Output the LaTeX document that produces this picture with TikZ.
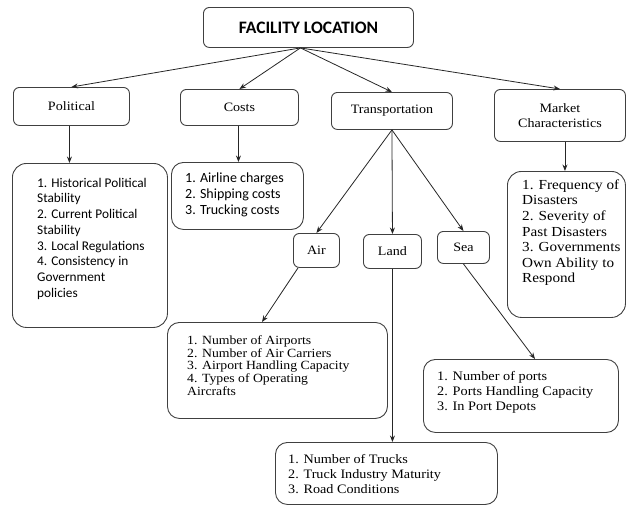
\documentclass[tikz,border=0pt]{standalone}
\usepackage{fontspec}
\setmainfont{Liberation Serif}
\newfontfamily\srfont[FakeStretch=1.1]{Liberation Serif}
\newfontfamily\calfont{Carlito}
\usetikzlibrary{arrows.meta}
\begin{document}
\begin{tikzpicture}[x=1pt,y=-1pt,
  box/.style={draw=black!75, line width=0.9pt, rounded corners=6pt, inner sep=0pt, anchor=north west},
  bigbox/.style={box, rounded corners=14pt},
  lbl/.style={font=\srfont\fontsize{12.8}{14.5}\selectfont, align=center},
  arr/.style={-{Stealth[length=6.5pt,width=5pt]}, line width=0.8pt, black!85},
  txt/.style={anchor=north west, inner sep=0pt, align=left}]
\useasboundingbox (0,0) rectangle (626,507);
% title
\node[box, minimum width=210pt, minimum height=40pt, font=\calfont\bfseries\fontsize{17.5}{20}\selectfont] (title) at (203,7) {FACILITY LOCATION};
% level 1
\node[box, lbl, minimum width=116pt, minimum height=38pt] (pol) at (13,87) {Political};
\node[box, lbl, minimum width=118pt, minimum height=36pt] (cost) at (180,89) {Costs};
\node[box, lbl, minimum width=121pt, minimum height=37pt] (trans) at (331,92) {Transportation};
\node[box, lbl, minimum width=131pt, minimum height=52pt] (mkt) at (494,89) {Market\\Characteristics};
% transport modes
\node[box, lbl, minimum width=46pt, minimum height=34pt] (air) at (293,233) {Air};
\node[box, lbl, minimum width=58pt, minimum height=34pt] (land) at (363,234) {Land};
\node[box, lbl, minimum width=52pt, minimum height=32pt] (sea) at (437,231) {Sea};
% detail boxes
\node[bigbox, minimum width=155pt, minimum height=164pt] (polbox) at (12,163) {};
\node[bigbox, rounded corners=12pt, minimum width=132pt, minimum height=67pt] (costbox) at (171,162) {};
\node[bigbox, minimum width=118pt, minimum height=146pt] (mktbox) at (507,171) {};
\node[bigbox, rounded corners=12pt, minimum width=220pt, minimum height=96pt] (airbox) at (167,322) {};
\node[bigbox, rounded corners=12pt, minimum width=222pt, minimum height=62pt] (landbox) at (275,442) {};
\node[bigbox, rounded corners=12pt, minimum width=195pt, minimum height=73pt] (seabox) at (423,359) {};
% detail texts
\node[txt, font=\calfont\fontsize{13.3}{15.7}\selectfont] (poltxt) at (37,176) {\rule{0pt}{11pt}1. Historical Political\\Stability\\2. Current Political\\Stability\\3. Local Regulations\\4. Consistency in\\Government\\policies};
\node[txt, font=\calfont\fontsize{14}{16}\selectfont] (costtxt) at (185,171) {\rule{0pt}{11pt}1. Airline charges\\2. Shipping costs\\3. Trucking costs};
\node[txt, font=\srfont\fontsize{13.8}{15.6}\selectfont] (mkttxt) at (522,178) {\rule{0pt}{11pt}1. Frequency of\\Disasters\\2. Severity of\\Past Disasters\\3. Governments\\Own Ability to\\Respond};
\node[txt, font=\srfont\fontsize{12.5}{12.8}\selectfont] (airtxt) at (187,333) {\rule{0pt}{11pt}1. Number of Airports\\2. Number of Air Carriers\\3. Airport Handling Capacity\\4. Types of Operating\\Aircrafts};
\node[txt, font=\srfont\fontsize{12.9}{15}\selectfont] (landtxt) at (288,452) {\rule{0pt}{11pt}1. Number of Trucks\\2. Truck Industry Maturity\\3. Road Conditions};
\node[txt, font=\srfont\fontsize{13}{15.3}\selectfont] (seatxt) at (437,369) {\rule{0pt}{11pt}1. Number of ports\\2. Ports Handling Capacity\\3. In Port Depots};
% connectors
\coordinate (t0) at ([xshift=-8pt]title.south);
\draw[arr] (t0) -- (pol.north);
\draw[arr] (t0) -- (cost.north);
\draw[arr] (t0) -- (trans.north);
\draw[arr] (t0) -- (mkt.north);
\draw[arr] ([xshift=-2pt]pol.south) -- ([xshift=-2pt]pol.south |- polbox.north);
\draw[arr] ([xshift=-1pt]cost.south) -- ([xshift=-1pt]cost.south |- costbox.north);
\draw[arr] ([xshift=5pt]mkt.south) -- ([xshift=5pt]mkt.south |- mktbox.north);
\draw[arr] (trans.south) -- (air.north);
\draw[arr] (trans.south) -- (land.north);
\draw[arr] (trans.south) -- (sea.north);
\draw[arr] ([xshift=5pt]air.south west) -- ([xshift=95pt]airbox.north west);
\draw[arr] (land.south) -- (land.south |- landbox.north);
\draw[arr] (sea.south) -- ([xshift=112pt]seabox.north west);
\end{tikzpicture}
\end{document}
